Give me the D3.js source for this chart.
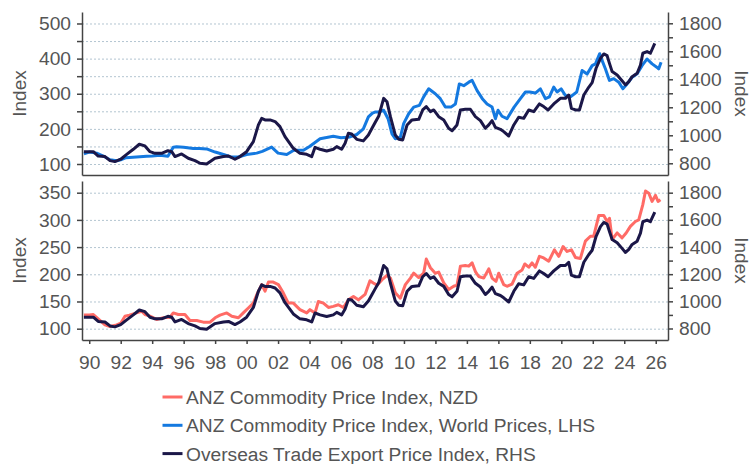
<!DOCTYPE html>
<html>
<head>
<meta charset="utf-8">
<script src="https://cdn.jsdelivr.net/npm/d3@7/dist/d3.min.js"></script>
<style>
  body { margin: 0; background: #fff; }
  text { font-family: "Liberation Sans", Arial, sans-serif; }
  .axis path, .axis line { stroke: #444; }
  .axis text { fill: #555; font-size: 19.2px; }
  .grid line { stroke: #b3c5d1; stroke-dasharray: 2,2; }
  .grid path { stroke: none; }
</style>
</head>
<body>
<div id="vis"></div>
<script>

// ANZ Commodity Price Index, World Prices (LHS, top panel) - [year, index]
var worldPrices = [[1989.66,129],[1990.0,134],[1990.47,131],[1991.0,120],[1991.32,112],[1991.74,109],[1992.0,112],[1992.34,118],[1993.0,120],[1993.65,122],[1994.0,123],[1994.5,125],[1995.0,122],[1995.34,148],[1995.55,149],[1996.0,148],[1996.61,144],[1997.0,144],[1997.46,143],[1998.0,134],[1998.53,127],[1999.0,120],[1999.48,120],[2000.0,127],[2000.64,131],[2001.0,136],[2001.59,148],[2002.0,131],[2002.55,127],[2003.0,139],[2003.61,139],[2004.0,150],[2004.67,172],[2005.0,175],[2005.51,179],[2006.0,175],[2006.57,177],[2007.0,184],[2007.42,200],[2007.74,234],[2008.0,245],[2008.16,248],[2008.4,248],[2008.71,253],[2008.99,229],[2009.24,186],[2009.45,172],[2009.77,176],[2009.98,215],[2010.3,243],[2010.62,262],[2010.98,267],[2011.25,291],[2011.57,314],[2011.99,300],[2012.31,286],[2012.63,262],[2012.99,262],[2013.27,271],[2013.52,328],[2013.8,323],[2014.12,333],[2014.33,338],[2014.65,309],[2014.98,286],[2015.28,271],[2015.6,262],[2015.81,229],[2015.98,253],[2016.23,236],[2016.55,229],[2017.0,262],[2017.4,286],[2017.72,305],[2017.99,305],[2018.35,302],[2018.67,314],[2018.99,286],[2019.24,291],[2019.52,319],[2019.73,305],[2019.99,314],[2020.26,295],[2020.58,291],[2020.98,305],[2021.32,366],[2021.64,356],[2021.96,380],[2022.17,385],[2022.44,414],[2022.59,395],[2022.8,371],[2023.06,338],[2023.33,343],[2023.65,333],[2023.91,314],[2024.18,328],[2024.5,347],[2024.82,357],[2025.13,380],[2025.45,399],[2025.77,385],[2026.09,375],[2026.19,371],[2026.34,390]];

// Overseas Trade Export Price Index (RHS, both panels)
var otepi = [[1989.66,883],[1990.0,883],[1990.26,883],[1990.57,852],[1991.0,848],[1991.32,819],[1991.63,812],[1992.0,829],[1992.34,860],[1992.8,900],[1993.18,936],[1993.54,924],[1993.86,883],[1994.18,871],[1994.6,871],[1995.0,890],[1995.24,883],[1995.45,848],[1995.87,867],[1996.29,836],[1996.72,819],[1997.04,800],[1997.46,795],[1997.99,836],[1998.53,848],[1998.85,852],[1999.26,829],[1999.58,848],[2000.0,883],[2000.43,955],[2000.75,1074],[2000.96,1121],[2001.17,1110],[2001.49,1110],[2001.81,1098],[2002.12,1062],[2002.44,990],[2002.97,907],[2003.39,871],[2003.82,864],[2004.14,848],[2004.35,914],[2004.67,900],[2005.09,888],[2005.51,900],[2005.73,919],[2006.04,900],[2006.26,943],[2006.47,1014],[2006.68,1010],[2007.0,971],[2007.42,960],[2007.74,1002],[2007.97,1050],[2008.16,1090],[2008.4,1138],[2008.71,1264],[2008.92,1240],[2009.14,1133],[2009.45,1002],[2009.67,971],[2009.92,967],[2010.2,1074],[2010.51,1110],[2010.94,1114],[2011.19,1181],[2011.42,1205],[2011.68,1169],[2011.89,1181],[2012.21,1133],[2012.53,1110],[2012.84,1050],[2013.06,1033],[2013.37,1074],[2013.59,1181],[2013.9,1186],[2014.22,1186],[2014.54,1133],[2014.86,1105],[2015.17,1050],[2015.39,1074],[2015.6,1105],[2015.81,1057],[2016.13,1043],[2016.34,1026],[2016.66,995],[2016.98,1074],[2017.29,1129],[2017.61,1121],[2017.93,1181],[2018.25,1169],[2018.61,1224],[2018.88,1205],[2019.16,1181],[2019.52,1224],[2019.94,1264],[2020.26,1264],[2020.47,1288],[2020.64,1193],[2020.9,1181],[2021.15,1181],[2021.43,1288],[2021.74,1343],[2021.96,1376],[2022.21,1479],[2022.49,1550],[2022.7,1581],[2022.91,1569],[2023.06,1514],[2023.23,1455],[2023.55,1431],[2023.86,1390],[2024.08,1360],[2024.29,1383],[2024.5,1419],[2024.82,1443],[2025.03,1502],[2025.18,1586],[2025.45,1598],[2025.66,1586],[2025.94,1657]];

// ANZ Commodity Price Index, NZD (LHS, bottom panel)
var nzdPrices = [[1989.66,125],[1990.0,125],[1990.26,126],[1990.57,118],[1991.0,107],[1991.32,104],[1991.74,107],[1992.0,110],[1992.27,123],[1992.55,125],[1993.0,129],[1993.33,132],[1993.54,126],[1993.86,123],[1994.28,117],[1994.71,120],[1995.13,121],[1995.34,129],[1995.66,126],[1996.08,126],[1996.4,115],[1996.83,115],[1997.25,112],[1997.68,112],[1998.0,120],[1998.31,125],[1998.74,129],[1999.06,123],[1999.48,120],[1999.79,129],[2000.11,138],[2000.43,147],[2000.64,162],[2000.96,181],[2001.17,169],[2001.39,186],[2001.66,186],[2002.02,181],[2002.33,166],[2002.65,147],[2002.97,147],[2003.39,135],[2003.82,129],[2004.03,135],[2004.35,129],[2004.56,150],[2004.88,147],[2005.2,139],[2005.51,141],[2005.83,144],[2006.15,139],[2006.47,153],[2006.79,159],[2007.1,153],[2007.53,163],[2007.84,188],[2008.05,184],[2008.29,180],[2008.61,190],[2008.92,198],[2009.14,193],[2009.45,166],[2009.77,156],[2010.09,181],[2010.41,193],[2010.62,202],[2010.94,194],[2011.25,202],[2011.42,228],[2011.68,212],[2011.99,202],[2012.21,204],[2012.53,184],[2012.84,172],[2013.16,178],[2013.37,180],[2013.59,215],[2013.9,216],[2014.12,215],[2014.33,221],[2014.54,205],[2014.75,196],[2015.07,193],[2015.39,210],[2015.6,193],[2015.85,187],[2016.02,202],[2016.34,181],[2016.55,178],[2016.87,182],[2017.19,202],[2017.51,208],[2017.68,219],[2017.93,213],[2018.14,221],[2018.35,213],[2018.61,233],[2018.88,230],[2019.2,224],[2019.56,245],[2019.84,233],[2020.11,251],[2020.37,242],[2020.64,245],[2020.9,231],[2021.21,229],[2021.53,261],[2021.85,270],[2022.06,270],[2022.38,308],[2022.7,308],[2022.91,297],[2023.06,303],[2023.23,264],[2023.55,276],[2023.86,267],[2024.12,276],[2024.39,288],[2024.71,297],[2024.92,300],[2025.18,328],[2025.35,353],[2025.56,349],[2025.77,334],[2025.98,345],[2026.15,334],[2026.3,337]];

var xTicks = d3.range(1990, 2027, 2);
var topLeftTicks = d3.range(100, 501, 50);
var topRightTicks = d3.range(800, 1801, 100);
var botLeftTicks = d3.range(100, 351, 50);
var botRightTicks = d3.range(800, 1801, 100);

var legendNames = ["ANZ Commodity Price Index, NZD",
                   "ANZ Commodity Price Index, World Prices, LHS",
                   "Overseas Trade Export Price Index, RHS"];

var colNzd = "#ff6b66";
var colWorld = "#1479e0";
var colOtepi = "#1b1748";

var width = 751;
var height = 464;
var left = 82, right = 668;

var svg = d3.select("#vis")
  .append("svg")
    .attr("width", width)
    .attr("height", height);

var x = d3.scaleLinear()
    .domain([1989.54, 2026.78])
    .range([left, right]);

// top panel scales
var yTopL = d3.scaleLinear().domain([68.7, 532.7]).range([175, 12]);
var yTopR = d3.scaleLinear().domain([716.4, 1880.7]).range([175, 12]);
// bottom panel scales
var yBotL = d3.scaleLinear().domain([79.2, 371.5]).range([340, 181]);
var yBotR = d3.scaleLinear().domain([715.3, 1886]).range([340, 181]);

function lineFor(y) {
  return d3.line()
    .x(function(d) { return x(d[0]); })
    .y(function(d) { return y(d[1]); });
}

function panel(yL, yR, leftTicks, rightTicks, leftEvery, bottomY, midY, showX) {
  // gridlines
  svg.append("g")
      .attr("class", "grid")
      .attr("transform", "translate(" + left + ",0)")
      .call(d3.axisLeft(yL)
        .tickValues(leftTicks)
        .tickSize(-(right - left))
        .tickFormat(""));

  // left axis
  svg.append("g")
      .attr("class", "axis")
      .attr("transform", "translate(" + left + ",0)")
      .call(d3.axisLeft(yL)
        .tickValues(leftTicks)
        .tickSize(5)
        .tickSizeOuter(0)
        .tickPadding(6)
        .tickFormat(function(d) { return d % leftEvery === 0 ? d : ""; }))
      .selectAll("path, line").attr("stroke-width", 1.5);

  // right axis
  svg.append("g")
      .attr("class", "axis")
      .attr("transform", "translate(" + right + ",0)")
      .call(d3.axisRight(yR)
        .tickValues(rightTicks)
        .tickSize(5)
        .tickSizeOuter(0)
        .tickPadding(6)
        .tickFormat(function(d) { return d % 200 === 0 ? d : ""; }))
      .selectAll("path, line").attr("stroke-width", 1.5);

  // bottom axis
  var xa = svg.append("g")
      .attr("class", "axis")
      .attr("transform", "translate(0," + bottomY + ")");
  if (showX) {
    xa.call(d3.axisBottom(x)
        .tickValues(xTicks)
        .tickSize(4)
        .tickSizeOuter(0)
        .tickPadding(11)
        .tickFormat(function(d) { return d3.format("02")(d % 100); }));
  } else {
    xa.call(d3.axisBottom(x).tickValues([]).tickSizeOuter(0));
  }
  xa.selectAll("path, line").attr("stroke-width", 1.5);

  // axis titles
  svg.append("text")
      .attr("transform", "translate(25.5," + midY + ") rotate(-90)")
      .attr("text-anchor", "middle")
      .style("fill", "#555")
      .style("font-size", "19px")
      .text("Index");
  svg.append("text")
      .attr("transform", "translate(735," + midY + ") rotate(90)")
      .attr("text-anchor", "middle")
      .style("fill", "#555")
      .style("font-size", "19px")
      .text("Index");
}

panel(yTopL, yTopR, topLeftTicks, topRightTicks, 100, 175, 93.5, false);
panel(yBotL, yBotR, botLeftTicks, botRightTicks, 50, 340, 260.5, true);

// top panel lines
svg.append("path")
    .datum(worldPrices)
    .attr("fill", "none")
    .attr("stroke", colWorld)
    .attr("stroke-width", 3)
    .attr("stroke-linejoin", "round")
    .attr("d", lineFor(yTopL));
svg.append("path")
    .datum(otepi)
    .attr("fill", "none")
    .attr("stroke", colOtepi)
    .attr("stroke-width", 3)
    .attr("stroke-linejoin", "round")
    .attr("d", lineFor(yTopR));

// bottom panel lines
svg.append("path")
    .datum(nzdPrices)
    .attr("fill", "none")
    .attr("stroke", colNzd)
    .attr("stroke-width", 3)
    .attr("stroke-linejoin", "round")
    .attr("d", lineFor(yBotL));
svg.append("path")
    .datum(otepi)
    .attr("fill", "none")
    .attr("stroke", colOtepi)
    .attr("stroke-width", 3)
    .attr("stroke-linejoin", "round")
    .attr("d", lineFor(yBotR));

// legend
var legendColors = [colNzd, colWorld, colOtepi];
var legend = svg.selectAll(".legend")
    .data(legendNames)
  .enter().append("g")
    .attr("class", "legend")
    .attr("transform", function(d, i) { return "translate(0," + (397 + i * 28.3) + ")"; });

legend.append("line")
    .attr("x1", 162.5)
    .attr("x2", 182.5)
    .attr("stroke", function(d, i) { return legendColors[i]; })
    .attr("stroke-width", 3);

legend.append("text")
    .attr("x", 186)
    .attr("dy", "0.36em")
    .style("fill", "#555")
    .style("font-size", "19.2px")
    .text(function(d) { return d; });

</script>
</body>
</html>
